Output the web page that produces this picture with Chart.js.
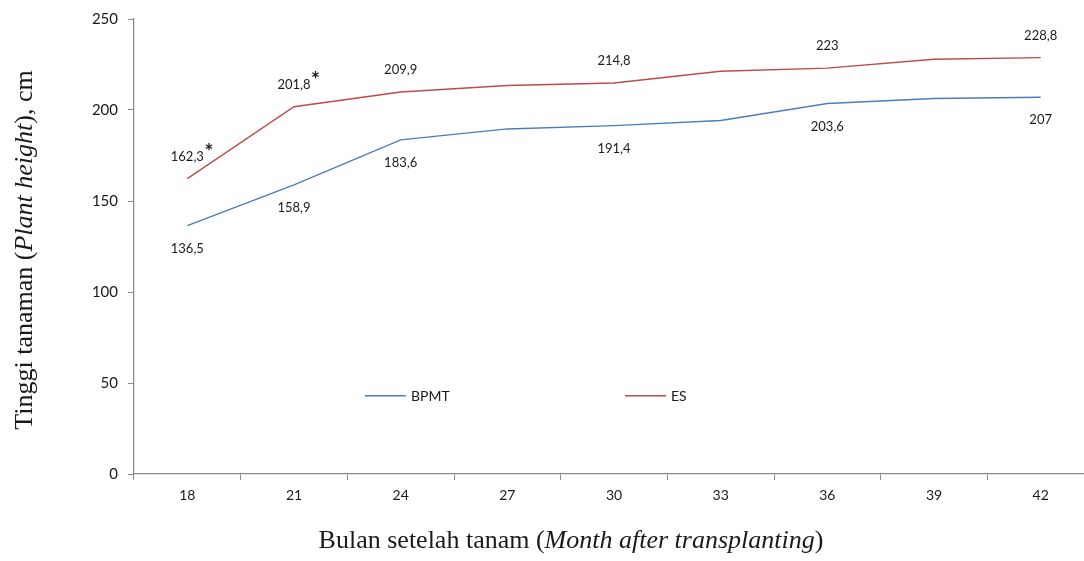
<!DOCTYPE html>
<html>
<head>
<meta charset="utf-8">
<script src="https://cdn.jsdelivr.net/npm/chart.js@4/dist/chart.umd.min.js"></script>
<style>
  html, body { margin: 0; padding: 0; background: #fff; overflow: hidden; }
  #wrap { width: 1100px; height: 561px; }
</style>
</head>
<body>
<div id="wrap"><canvas id="myChart"></canvas></div>
<script>
const months = ["18", "21", "24", "27", "30", "33", "36", "39", "42"];
const bpmt = [136.5, 158.9, 183.6, 189.6, 191.4, 194.2, 203.6, 206.3, 207];
const es = [162.3, 201.8, 209.9, 213.5, 214.8, 221.3, 223, 227.9, 228.8];
// labels printed on the chart (only where the source shows them)
const bpmtLabels = ["136,5", "158,9", "183,6", "", "191,4", "", "203,6", "", "207"];
const esLabels = ["162,3", "201,8", "209,9", "", "214,8", "", "223", "", "228,8"];
const esStars = [true, true, false, false, false, false, false, false, false];
const yTicks = [0, 50, 100, 150, 200, 250];

const blue = "#4a7ebb";
const red = "#be4b48";
const axisGray = "#8c8c8c";
const textColor = "#1a1a1a";

const labelPlugin = {
  id: "pointLabels",
  afterDatasetsDraw(chart) {
    const ctx = chart.ctx;
    const x = chart.scales.x;
    const y = chart.scales.y;
    ctx.save();
    ctx.fillStyle = textColor;
    ctx.textAlign = "center";
    ctx.textBaseline = "middle";
    for (let i = 0; i < months.length; i++) {
      const px = x.getPixelForValue(i);
      if (esLabels[i]) {
        const py = y.getPixelForValue(es[i]) - 22;
        ctx.font = "13px Lato";
        ctx.fillText(esLabels[i], px, py);
        if (esStars[i]) {
          const w = ctx.measureText(esLabels[i]).width;
          ctx.font = "bold 21px Lato";
          ctx.fillText("*", px + w / 2 + 5, py - 4);
        }
      }
      if (bpmtLabels[i]) {
        ctx.font = "13px Lato";
        ctx.fillText(bpmtLabels[i], px, y.getPixelForValue(bpmt[i]) + 23);
      }
    }

    // legend inside the plot
    const area = chart.chartArea;
    const ly = y.getPixelForValue(43);
    const items = [[chart.data.datasets[0], area.left + 231], [chart.data.datasets[1], area.left + 491]];
    ctx.textAlign = "left";
    ctx.font = "14px Lato";
    items.forEach(([ds, lx]) => {
      ctx.strokeStyle = ds.borderColor;
      ctx.lineWidth = 1.4;
      ctx.beginPath();
      ctx.moveTo(lx, ly);
      ctx.lineTo(lx + 41, ly);
      ctx.stroke();
      ctx.fillStyle = textColor;
      ctx.fillText(ds.label, lx + 46, ly + 1);
    });

    // axis titles with italic parts
    function mixed(parts, cx, cy) {
      let total = 0;
      parts.forEach(p => { ctx.font = p[1]; total += ctx.measureText(p[0]).width; });
      let sx = cx - total / 2;
      parts.forEach(p => {
        ctx.font = p[1];
        ctx.fillText(p[0], sx, cy);
        sx += ctx.measureText(p[0]).width;
      });
    }
    const reg = "26px 'Liberation Serif'";
    const ita = "italic 26px 'Liberation Serif'";
    ctx.fillStyle = textColor;
    ctx.textBaseline = "middle";
    mixed([["Bulan setelah tanam (", reg], ["Month after transplanting", ita], [")", reg]], 571, 541);
    ctx.translate(25, 250);
    ctx.rotate(-Math.PI / 2);
    mixed([["Tinggi tanaman (", reg], ["Plant height", ita], ["), cm", reg]], 0, 0);
    ctx.restore();
  }
};

new Chart(document.getElementById("myChart"), {
  type: "line",
  data: {
    labels: months,
    datasets: [
      {
        label: "BPMT",
        data: bpmt,
        borderColor: blue,
        backgroundColor: blue,
        borderWidth: 1.4,
        pointRadius: 0,
        tension: 0,
      },
      {
        label: "ES",
        data: es,
        borderColor: red,
        backgroundColor: red,
        borderWidth: 1.4,
        pointRadius: 0,
        tension: 0,
      },
    ],
  },
  options: {
    responsive: true,
    maintainAspectRatio: false,
    animation: false,
    layout: { padding: { top: 19, right: 6, left: 0, bottom: 0 } },
    plugins: {
      legend: { display: false },
      tooltip: { enabled: false },
    },
    scales: {
      x: {
        offset: true,
        grid: {
          offset: true,
          drawOnChartArea: false,
          drawTicks: true,
          tickLength: 6,
          tickColor: axisGray,
        },
        border: { color: axisGray, width: 1.3 },
        ticks: { color: textColor, font: { family: "Lato", size: 14 }, padding: 7, maxRotation: 0 },
        afterFit(scale) { scale.height = 87; },
      },
      y: {
        min: 0,
        max: 250,
        afterBuildTicks(scale) { scale.ticks = yTicks.map(v => ({ value: v })); },
        grid: {
          drawOnChartArea: false,
          drawTicks: true,
          tickLength: 6,
          tickColor: axisGray,
        },
        border: { color: axisGray, width: 1.3 },
        ticks: { color: textColor, font: { family: "Lato", size: 15 }, padding: 10 },
        afterFit(scale) { scale.width = 134; },
      },
    },
  },
  plugins: [labelPlugin],
});
</script>
</body>
</html>
